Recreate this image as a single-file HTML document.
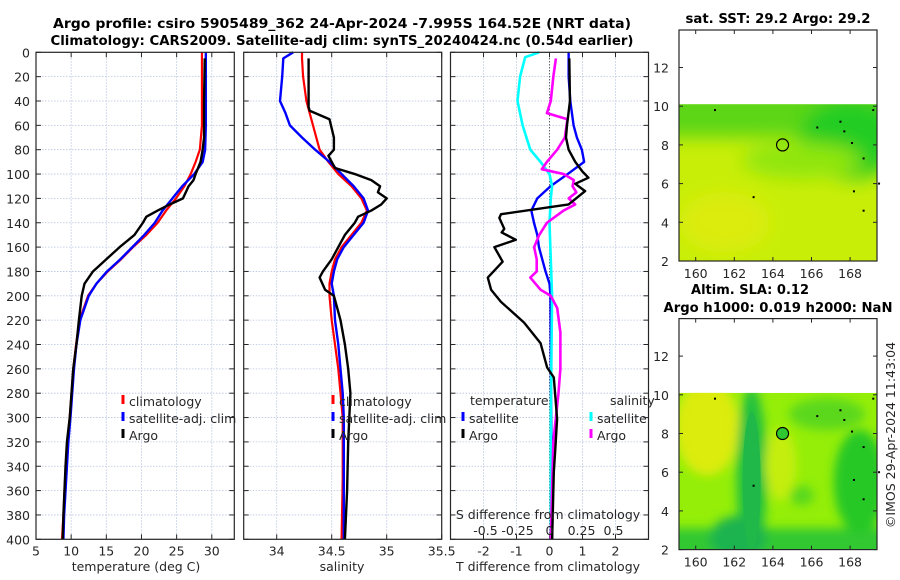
<!DOCTYPE html>
<html><head><meta charset="utf-8">
<style>
html,body{margin:0;padding:0;background:#fff;}
svg{display:block;font-family:"DejaVu Sans","Liberation Sans",sans-serif;}
.tk{font-size:12.5px;fill:#262626;}
.ttl{font-size:13px;font-weight:bold;fill:#000;}
</style></head>
<body>
<svg id="fig" width="900" height="580" viewBox="0 0 900 580" xmlns="http://www.w3.org/2000/svg">
<text class="ttl" x="342" y="28" text-anchor="middle" textLength="578" lengthAdjust="spacingAndGlyphs">Argo profile: csiro 5905489_362 24-Apr-2024 -7.995S 164.52E (NRT data)</text>
<text class="ttl" x="342" y="45" text-anchor="middle" textLength="583" lengthAdjust="spacingAndGlyphs">Climatology: CARS2009. Satellite-adj clim: synTS_20240424.nc (0.54d earlier)</text>
<g id="g"></g>
</svg>
<script>
// ---------------- data ----------------
const depthsT = [0,20,40,60,80,90,100,110,120,130,140,150,160,170,180,190,200,220,240,260,280,300,320,340,360,380,400];
const tempClim = [28.6,28.6,28.6,28.6,28.3,27.7,27.0,26.1,24.9,23.5,22.3,20.7,18.8,17.1,15.2,13.6,12.4,11.2,10.7,10.3,10.05,9.8,9.5,9.25,9.05,8.9,8.7];
const tempSat  = [29.15,29.15,29.15,29.15,29.05,28.7,27.5,25.8,24.4,23.0,21.9,20.4,18.7,17.0,15.1,13.6,12.5,11.3,10.75,10.4,10.15,9.9,9.6,9.4,9.2,9.0,8.9];
const depthsTA = [5,40,60,70,80,90,100,105,110,120,125,130,135,140,150,160,170,180,190,200,220,240,260,280,300,320,340,360,380,400];
const tempArgo = [29.0,28.9,28.9,28.9,28.7,28.4,27.7,27.4,26.7,25.9,24.0,22.3,20.7,20.2,19.0,16.9,15.0,13.1,11.9,11.5,11.1,10.75,10.3,10.05,9.8,9.4,9.2,9.05,8.9,8.8];

const depthsS = [0,5,20,40,50,60,70,80,90,100,110,120,130,140,150,160,170,180,190,200,220,240,260,280,300,350,400];
const salClim = [34.23,34.23,34.24,34.27,34.30,34.33,34.36,34.39,34.47,34.56,34.68,34.77,34.82,34.77,34.68,34.59,34.53,34.50,34.48,34.48,34.50,34.53,34.56,34.58,34.60,34.60,34.59];
const salSat  = [34.15,34.06,34.05,34.03,34.08,34.12,34.23,34.35,34.48,34.59,34.70,34.79,34.83,34.79,34.70,34.61,34.55,34.52,34.50,34.52,34.53,34.56,34.58,34.60,34.61,34.61,34.61];
const depthsSA = [5,45,48,55,70,80,85,95,100,105,110,115,120,125,130,135,140,150,160,170,180,185,195,200,210,220,240,260,280,300,320,360,400];
const salArgo = [34.29,34.29,34.30,34.48,34.52,34.52,34.47,34.53,34.71,34.86,34.94,34.92,35.0,34.95,34.86,34.74,34.71,34.62,34.56,34.50,34.42,34.39,34.44,34.52,34.55,34.58,34.62,34.65,34.67,34.66,34.65,34.64,34.62];

const depthsDT = [0,20,40,60,70,80,90,100,110,120,130,140,150,160,170,180,190,200,250,300,350,400];
const tDiffSat = [0.58,0.58,0.63,0.73,0.83,0.98,1.05,0.55,0.03,-0.37,-0.55,-0.47,-0.37,-0.32,-0.22,-0.12,0.0,0.03,0.04,0.05,0.07,0.08];
const depthsDTA = [5,40,60,70,80,90,98,103,108,114,125,133,136,145,148,154,160,172,185,195,205,222,239,259,267,301,324,345,400];
const tDiffArgo = [0.6,0.62,0.53,0.5,0.58,0.78,1.0,1.18,0.78,1.08,0.58,-1.47,-1.52,-1.37,-1.45,-1.02,-1.67,-1.42,-1.87,-1.77,-1.47,-0.77,-0.27,-0.07,0.13,0.23,0.18,0.13,0.08];
const depthsDS = [0,4,20,40,60,80,90,100,110,120,140,200,300,400];
const sDiffSat = [-0.08,-0.19,-0.23,-0.25,-0.21,-0.15,-0.07,0.0,0.02,0.01,0.0,0.02,0.01,0.01];
const depthsDSA = [5,20,40,50,55,70,80,90,96,100,105,110,115,120,125,130,140,150,160,170,180,185,195,200,210,230,260,280,300,320,400];
const sDiffArgo = [0.05,0.03,0.01,-0.02,0.14,0.12,0.06,-0.02,-0.06,0.11,0.19,0.18,0.21,0.15,0.2,0.11,-0.02,-0.08,-0.12,-0.10,-0.10,-0.15,-0.07,0.01,0.06,0.085,0.085,0.07,0.05,0.03,0.01];

const depthTicks = [0,20,40,60,80,100,120,140,160,180,200,220,240,260,280,300,320,340,360,380,400];
const tempTicks = [5,10,15,20,25,30];
const salTicks = [34,34.5,35,35.5];
const tdTicks = [-2,-1,0,1,2];
const sdTicks = [-0.5,-0.25,0,0.25,0.5];
const sdTickLabels = ["-0.5","-0.25","0","0.25","0.5"];
const lonTicks = [160,162,164,166,168];
const latTicks = [2,4,6,8,10,12];

// ---------------- drawing ----------------
const NS="http://www.w3.org/2000/svg";
const G=document.getElementById('g');
function el(tag,attrs,parent,txt){const e=document.createElementNS(NS,tag);for(const k in attrs)e.setAttribute(k,attrs[k]);if(txt!==undefined)e.textContent=txt;(parent||G).appendChild(e);return e;}

const Y0=52.3, YS=1.2175;
const yD=d=>Y0+d*YS;
const BOT=yD(400);
const P1={x0:36,x1:234.3,v0:5,v1:33.2};
const P2={x0:243.7,x1:441.7,v0:33.7,v1:35.5};
const P3={x0:450.5,x1:648.5,v0:-3,v1:3};
const xf=p=>v=>p.x0+(v-p.v0)/(p.v1-p.v0)*(p.x1-p.x0);
const x1=xf(P1),x2=xf(P2),x3=xf(P3);
const xSd=v=>x3(0)+v*128;

function panel(p,name,xt,xfun,labels){
  const g=el('g',{});
  
  
  depthTicks.forEach(d=>{el('line',{x1:p.x0,x2:p.x1,y1:yD(d),y2:yD(d),stroke:'#b8c4e0','stroke-width':0.8,'stroke-dasharray':'1.5,1.5'},g);});
  xt.forEach(v=>{el('line',{x1:xfun(v),x2:xfun(v),y1:Y0,y2:BOT,stroke:'#b8c4e0','stroke-width':0.8,'stroke-dasharray':'1.5,1.5'},g);});
  depthTicks.forEach(d=>{el('line',{x1:p.x0,x2:p.x0+5,y1:yD(d),y2:yD(d),stroke:'#262626'},g);el('line',{x1:p.x1,x2:p.x1-5,y1:yD(d),y2:yD(d),stroke:'#262626'},g);});
  xt.forEach(v=>{el('line',{x1:xfun(v),x2:xfun(v),y1:BOT,y2:BOT-5,stroke:'#262626'},g);el('line',{x1:xfun(v),x2:xfun(v),y1:Y0,y2:Y0+5,stroke:'#262626'},g);});
  if(labels) xt.forEach((v,i)=>{const t=el('text',{class:'tk',x:xfun(v),y:BOT+16,'text-anchor':'middle'},g,labels[i]);});
  return g;
}
function line(xs,ds,xfun,color,w,name,parent){
  const pts=xs.map((v,i)=>xfun(v).toFixed(2)+','+yD(ds[i]).toFixed(2)).join(' ');
  const pl=el('polyline',{points:pts,fill:'none',stroke:color,'stroke-width':w,'stroke-linejoin':'round'},parent);
  
  
}
function frame(p,name){const r=el('rect',{x:p.x0,y:Y0,width:p.x1-p.x0,height:BOT-Y0,fill:'none',stroke:'#262626','stroke-width':1.2});}
function legEntry(x,y,color,label,name){
  const g=el('g',{});
  el('rect',{x:x-1.5,y:y-11,width:3,height:9,fill:color},g);
  if(label) el('text',{class:'tk',x:x+6,y:y,'font-size':'13px',fill:'#000'},g,label);
}

// panel 1
panel(P1,'temperature-panel',tempTicks,x1,tempTicks.map(String));
depthTicks.forEach(d=>{const t=el('text',{class:'tk',x:30,y:yD(d)+5,'text-anchor':'end'},G,String(d));});
line(tempClim,depthsT,x1,'#ff0000',2.2,'temperature-climatology-line');
line(tempSat,depthsT,x1,'#0000ff',2.4,'temperature-satellite-line');
line(tempArgo,depthsTA,x1,'#000000',2.4,'temperature-argo-line');
frame(P1,'temperature-axes-frame');
el('text',{class:'tk',x:136,y:571,'text-anchor':'middle','font-size':'13px'},G,'temperature (deg C)');
legEntry(123,406,'#ff0000','climatology','legend-climatology');
legEntry(123,423,'#0000ff','satellite-adj. clim','legend-satellite-adj');
legEntry(123,440,'#000000','Argo','legend-argo');

// panel 2
panel(P2,'salinity-panel',salTicks,x2,salTicks.map(String));
line(salClim,depthsS,x2,'#ff0000',2.2,'salinity-climatology-line');
line(salSat,depthsS,x2,'#0000ff',2.4,'salinity-satellite-line');
line(salArgo,depthsSA,x2,'#000000',2.4,'salinity-argo-line');
frame(P2,'salinity-axes-frame');
el('text',{class:'tk',x:342,y:571,'text-anchor':'middle','font-size':'13px'},G,'salinity');
legEntry(333,406,'#ff0000','climatology','legend2-climatology');
legEntry(333,423,'#0000ff','satellite-adj. clim','legend2-satellite-adj');
legEntry(333,440,'#000000','Argo','legend2-argo');

// panel 3
panel(P3,'difference-panel',tdTicks,x3,tdTicks.map(String));
el('line',{x1:x3(0),x2:x3(0),y1:Y0,y2:BOT,stroke:'#333','stroke-width':1,'stroke-dasharray':'1,2'});
line(tDiffSat,depthsDT,x3,'#0000ff',2.4,'t-diff-satellite-line');
line(sDiffSat,depthsDS,xSd,'#00ffff',2.6,'s-diff-satellite-line');
line(sDiffArgo,depthsDSA,xSd,'#ff00ff',2.6,'s-diff-argo-line');
line(tDiffArgo,depthsDTA,x3,'#000000',2.4,'t-diff-argo-line');
frame(P3,'difference-axes-frame');
el('text',{class:'tk',x:548,y:571,'text-anchor':'middle','font-size':'13px'},G,'T difference from climatology');
el('text',{class:'tk',x:548,y:519,'text-anchor':'middle','font-size':'13px',fill:'#000'},G,'S difference from climatology');
sdTicks.forEach((v,i)=>{const t=el('text',{class:'tk',x:xSd(v),y:535,'text-anchor':'middle',fill:'#000'},G,sdTickLabels[i]);});
el('text',{class:'tk',x:470,y:405,'font-size':'13px',fill:'#000'},G,'temperature');
el('text',{class:'tk',x:610,y:405,'font-size':'13px',fill:'#000'},G,'salinity');
legEntry(463,423,'#0000ff','satellite','legend3-t-satellite');
legEntry(463,440,'#000000','Argo','legend3-t-argo');
legEntry(591,423,'#00ffff','satellite','legend3-s-satellite');
legEntry(591,440,'#ff00ff','Argo','legend3-s-argo');

// ---------------- maps ----------------
const LX0=679,LX1=877;
const lonX=lon=>695.7+(lon-160)*19.3;
function map(top,bot,name,titles,kind){
  const latY=lat=>bot-(lat-2)*19.35;
  const id='clip'+kind;
  const defs=el('defs',{});
  const cp=el('clipPath',{id:id},defs);
  el('rect',{x:LX0,y:latY(10.1),width:LX1-LX0,height:bot-latY(10.1)},cp);
  const f=el('filter',{id:'blur'+kind,x:'-50%',y:'-50%',width:'200%',height:'200%'},defs);
  el('feGaussianBlur',{stdDeviation:kind==='sst'?9:5},f);
  const g=el('g',{});
  const inner=el('g',{'clip-path':'url(#'+id+')'},g);
  if(kind==='sst'){
    el('rect',{x:LX0,y:latY(10.1),width:198,height:bot-latY(10.1),fill:'#c8ee08'},inner);
    const blobs=el('g',{filter:'url(#blur'+kind+')'},inner);
    el('rect',{x:LX0-20,y:latY(11),width:240,height:latY(8.4)-latY(11),fill:'#5cd618'},blobs);
    el('ellipse',{cx:lonX(168),cy:latY(8.3),rx:50,ry:40,fill:'#22cc22'},blobs);
    el('ellipse',{cx:lonX(165.5),cy:latY(7.2),rx:60,ry:18,fill:'#90e610'},blobs);
    el('ellipse',{cx:lonX(161.5),cy:latY(4),rx:45,ry:30,fill:'#dcec0a'},blobs);
  } else {
    el('rect',{x:LX0,y:latY(10.1),width:198,height:bot-latY(10.1),fill:'#94ee08'},inner);
    const blobs=el('g',{filter:'url(#blur'+kind+')'},inner);
    el('ellipse',{cx:lonX(160.6),cy:latY(8.3),rx:32,ry:48,fill:'#dcec08'},blobs);
    el('rect',{x:LX0-20,y:latY(3.1),width:240,height:40,fill:'#30c830'},blobs);
    el('ellipse',{cx:lonX(162.9),cy:latY(5.8),rx:15,ry:90,fill:'#22c040'},blobs);
    el('ellipse',{cx:lonX(162.2),cy:latY(2.6),rx:28,ry:22,fill:'#1eb450'},blobs);
    el('ellipse',{cx:lonX(168.5),cy:latY(5.5),rx:26,ry:52,fill:'#28c828'},blobs);
    el('ellipse',{cx:lonX(166.8),cy:latY(9),rx:38,ry:16,fill:'#5cd81c'},blobs);
    el('ellipse',{cx:lonX(164.4),cy:latY(6.4),rx:16,ry:36,fill:'#c4ee08'},blobs);
    el('ellipse',{cx:lonX(165.5),cy:latY(4.8),rx:12,ry:10,fill:'#58d81c'},blobs);
    el('ellipse',{cx:lonX(162.9),cy:latY(5.5),rx:9,ry:70,fill:'#20b848'},inner);
  }
  [[161,9.8],[163,5.3],[166.3,8.9],[167.5,9.2],[167.7,8.7],[168.1,8.1],[168.7,7.3],[168.7,4.6],[169.2,9.8],[169.5,6],[168.2,5.6]].forEach(p=>{el('rect',{x:lonX(p[0])-1,y:latY(p[1])-1,width:2,height:2,fill:'#000'},g);});
  const c=el('circle',{cx:lonX(164.5),cy:latY(8),r:6,fill:kind==='sst'?'none':'#30c830',stroke:'#000','stroke-width':1.2},g);
  
  el('rect',{x:LX0,y:top,width:LX1-LX0,height:bot-top,fill:'none',stroke:'#262626','stroke-width':1.2},g);
  latTicks.forEach(l=>{el('line',{x1:LX0,x2:LX0+4,y1:latY(l),y2:latY(l),stroke:'#262626'},g);el('line',{x1:LX1,x2:LX1-4,y1:latY(l),y2:latY(l),stroke:'#262626'},g);
    const t=el('text',{class:'tk',x:LX0-10,y:latY(l)+5,'text-anchor':'end'},g,String(l));});
  lonTicks.forEach(l=>{el('line',{x1:lonX(l),x2:lonX(l),y1:bot,y2:bot-4,stroke:'#262626'},g);el('line',{x1:lonX(l),x2:lonX(l),y1:top,y2:top+4,stroke:'#262626'},g);
    const t=el('text',{class:'tk',x:lonX(l),y:bot+17,'text-anchor':'middle'},g,String(l));});
  titles.forEach(s=>{const t=el('text',{class:'ttl',x:s[1],y:s[2],'text-anchor':'middle',textLength:s[3],lengthAdjust:'spacingAndGlyphs'},g,s[0]);});
}
map(30,261,'sst-map',[['sat. SST: 29.2 Argo: 29.2',778,23,185]],'sst');
map(318.6,549.6,'sla-map',[['Altim. SLA: 0.12',750,294,118],['Argo h1000: 0.019 h2000: NaN',778,312,229]],'sla');
const cr=el('text',{class:'tk',x:0,y:0,transform:'translate(895,435) rotate(-90)','text-anchor':'middle','font-size':'12.5px'},G,'\u00A9IMOS 29-Apr-2024 11:43:04');


</script>
</body></html>
